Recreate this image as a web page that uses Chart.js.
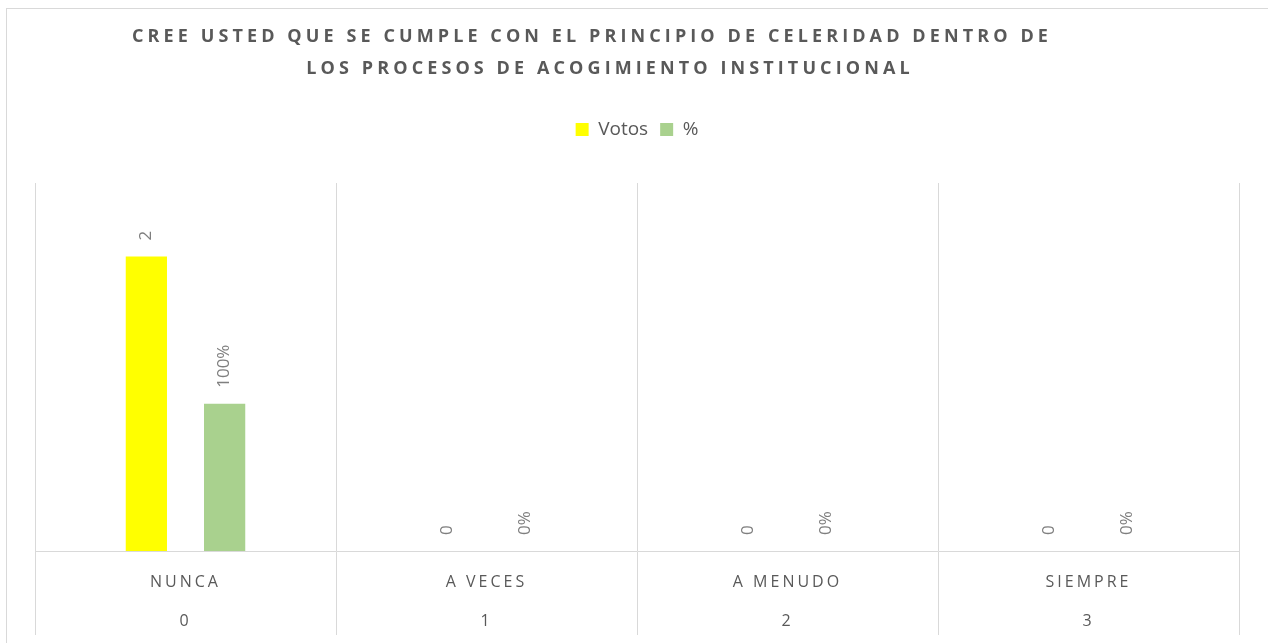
<!DOCTYPE html>
<html>
<head>
<meta charset="utf-8">
<title>Celeridad</title>
<script src="https://cdn.jsdelivr.net/npm/chart.js@4.4.1/dist/chart.umd.min.js"></script>
<style>
  html, body { margin: 0; padding: 0; background: #fff; }
  #wrap { width: 1268px; height: 643px; position: relative; }
</style>
</head>
<body>
<div id="wrap"><canvas id="chart"></canvas></div>
<script>
// chart data
const titleLines = [
  'CREE USTED QUE SE CUMPLE CON EL PRINCIPIO DE CELERIDAD DENTRO DE',
  'LOS PROCESOS DE ACOGIMIENTO INSTITUCIONAL'
];
const categories = ['NUNCA', 'A VECES', 'A MENUDO', 'SIEMPRE'];
const categoryCodes = ['0', '1', '2', '3'];
const votos = [2, 0, 0, 0];
const porcentaje = [1, 0, 0, 0]; // 1 = 100%

const GRID = '#d9d9d9';
const TEXT = '#595959';

/* outer frame of the chart */
const frame = {
  id: 'frame',
  beforeDraw(chart) {
    const ctx = chart.ctx;
    ctx.save();
    ctx.strokeStyle = GRID;
    ctx.lineWidth = 1;
    ctx.strokeRect(6.5, 8.5, 1400, 800);
    ctx.restore();
  }
};

/* extra room under the legend */
const legendGap = {
  id: 'legendGap',
  beforeInit(chart) {
    if (!chart.legend) return;
    const fit = chart.legend.fit;
    chart.legend.fit = function () {
      fit.call(this);
      this.height += 34;
    };
  }
};

/* rotated value labels above the bars, then spaced letters for the x labels */
const barLabels = {
  id: 'barLabels',
  afterDatasetsDraw(chart) {
    const ctx = chart.ctx;
    ctx.save();
    ctx.font = '17px "Open Sans"';
    ctx.fillStyle = '#7f7f7f';
    ctx.textAlign = 'left';
    ctx.textBaseline = 'middle';
    chart.data.datasets.forEach((ds, di) => {
      const meta = chart.getDatasetMeta(di);
      meta.data.forEach((bar, i) => {
        const v = ds.data[i];
        const txt = di === 1 ? Math.round(v * 100) + '%' : String(v);
        ctx.save();
        ctx.translate(bar.x, bar.y - 16);
        ctx.rotate(-Math.PI / 2);
        ctx.fillText(txt, 0, 0);
        ctx.restore();
      });
    });
    ctx.restore();
    // x axis labels are drawn after this (ticks.z: 1)
    ctx.letterSpacing = '3px';
  },
  afterDraw(chart) {
    const ctx = chart.ctx;
    ctx.letterSpacing = '0px';
    ctx.save();
    ctx.letterSpacing = '4.1px';
    ctx.font = 'bold 18px "Open Sans"';
    ctx.fillStyle = TEXT;
    ctx.textAlign = 'center';
    ctx.textBaseline = 'middle';
    ctx.fillText(titleLines[0], 592, 37);
    ctx.fillText(titleLines[1], 610, 69);
    ctx.restore();
  }
};

const ctx = document.getElementById('chart');
new Chart(ctx, {
  type: 'bar',
  data: {
    labels: categories.map((c, i) => [c, categoryCodes[i]]),
    datasets: [
      {
        label: 'Votos',
        data: votos,
        backgroundColor: '#ffff00',
        categoryPercentage: 0.52,
        barPercentage: 0.527
      },
      {
        label: '%',
        data: porcentaje,
        backgroundColor: '#a9d18e',
        categoryPercentage: 0.52,
        barPercentage: 0.527
      }
    ]
  },
  options: {
    responsive: true,
    maintainAspectRatio: false,
    animation: false,
    layout: { padding: { left: 35, right: 29, top: 108, bottom: 0 } },
    plugins: {
      title: { display: false },
      tooltip: { enabled: false },
      legend: {
        position: 'top',
        labels: {
          color: TEXT,
          font: { family: 'Open Sans', size: 19 },
          boxWidth: 13,
          boxHeight: 13,
          padding: 12
        }
      }
    },
    scales: {
      x: {
        grid: {
          offset: true,
          color: GRID,
          lineWidth: 1,
          drawTicks: true,
          tickLength: 84
        },
        border: { color: GRID, width: 1 },
        ticks: {
          z: 1,
          color: TEXT,
          font: { family: 'Open Sans', size: 16, lineHeight: 2.44 },
          padding: -72,
          maxRotation: 0,
          autoSkip: false
        },
        afterFit(scale) { scale.height = 92; }
      },
      y: {
        display: false,
        min: 0,
        max: 2.5
      }
    }
  },
  plugins: [frame, legendGap, barLabels]
});
</script>
</body>
</html>
